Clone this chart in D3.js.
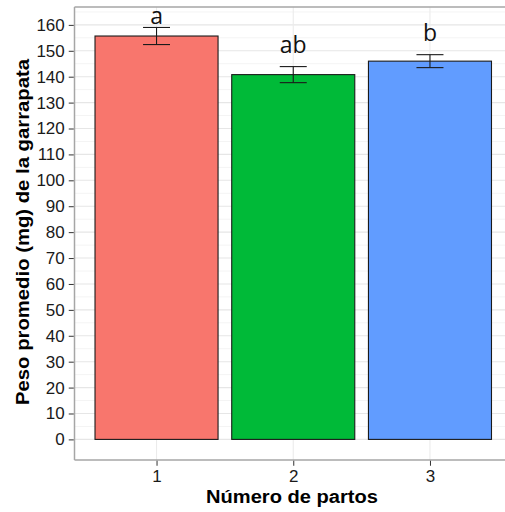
<!DOCTYPE html>
<html>
<head>
<meta charset="utf-8">
<script src="https://cdn.jsdelivr.net/npm/d3@7"></script>
<style>
  html, body { margin: 0; padding: 0; background: #fff; }
  svg { display: block; }
</style>
</head>
<body>
<div id="chart"></div>
<script>
// Mean tick weight by number of calvings
const categories = ["1", "2", "3"];
const means = [155.7, 140.8, 146.0];
const errors = [3.3, 3.1, 2.5];
const groupLetters = ["a", "ab", "b"];
const letterPositions = [160.4, 149.2, 153.9];
const barColors = ["#F8766D", "#00BA38", "#619CFF"];
const yTicks = d3.range(0, 161, 10);
const yMinorTicks = d3.range(5, 166, 10);

const W = 505, H = 512;
const panel = { left: 74.5, right: 512, top: 7, bottom: 460 };

const svg = d3.select("#chart").append("svg")
  .attr("width", W).attr("height", H);

const y = d3.scaleLinear().domain([-7.95, 166.9]).range([panel.bottom, panel.top]);
// discrete positions: categories at 1..3 with 0.6 expansion on each side
const xPos = d3.scaleLinear().domain([0.4, 3.6]).range([panel.left, panel.right]);
const step = xPos(2) - xPos(1);
const barW = step * 0.9;
const capW = 27;

const g = svg.append("g");

// minor grid
g.selectAll("line.minor").data(yMinorTicks).join("line")
  .attr("x1", panel.left).attr("x2", panel.right)
  .attr("y1", d => y(d)).attr("y2", d => y(d))
  .attr("stroke", "#f4f4f4").attr("stroke-width", 1);

// major grid
g.selectAll("line.major").data(yTicks).join("line")
  .attr("x1", panel.left).attr("x2", panel.right)
  .attr("y1", d => y(d)).attr("y2", d => y(d))
  .attr("stroke", "#e6e6e6").attr("stroke-width", 1.1);

g.selectAll("line.vgrid").data(categories).join("line")
  .attr("x1", (d, i) => xPos(i + 1)).attr("x2", (d, i) => xPos(i + 1))
  .attr("y1", panel.top).attr("y2", panel.bottom)
  .attr("stroke", "#ebebeb").attr("stroke-width", 1.1);

// bars
g.selectAll("rect.bar").data(means).join("rect")
  .attr("x", (d, i) => xPos(i + 1) - barW / 2)
  .attr("width", barW)
  .attr("y", d => y(d))
  .attr("height", d => y(0) - y(d))
  .attr("fill", (d, i) => barColors[i])
  .attr("stroke", "#1a1a1a").attr("stroke-width", 1.1);

// error bars
const eb = g.selectAll("g.err").data(means).join("g")
  .attr("stroke", "#1a1a1a").attr("stroke-width", 1.1);
eb.append("line")
  .attr("x1", (d, i) => xPos(i + 1)).attr("x2", (d, i) => xPos(i + 1))
  .attr("y1", (d, i) => y(d + errors[i])).attr("y2", (d, i) => y(d - errors[i]));
eb.append("line")
  .attr("x1", (d, i) => xPos(i + 1) - capW / 2).attr("x2", (d, i) => xPos(i + 1) + capW / 2)
  .attr("y1", (d, i) => y(d + errors[i])).attr("y2", (d, i) => y(d + errors[i]));
eb.append("line")
  .attr("x1", (d, i) => xPos(i + 1) - capW / 2).attr("x2", (d, i) => xPos(i + 1) + capW / 2)
  .attr("y1", (d, i) => y(d - errors[i])).attr("y2", (d, i) => y(d - errors[i]));

// significance letters
g.selectAll("text.letter").data(groupLetters).join("text")
  .attr("x", (d, i) => xPos(i + 1))
  .attr("y", (d, i) => y(letterPositions[i]))
  .attr("text-anchor", "middle")
  .attr("font-family", "'Open Sans', sans-serif")
  .attr("font-size", 23)
  .attr("fill", "#111")
  .text(d => d);

// panel border (top/left/bottom visible)
svg.append("line").attr("x1", panel.left).attr("x2", panel.right)
  .attr("y1", panel.top).attr("y2", panel.top)
  .attr("stroke", "#a6a6a6").attr("stroke-width", 1.5);
svg.append("line").attr("x1", panel.left).attr("x2", panel.right)
  .attr("y1", panel.bottom).attr("y2", panel.bottom)
  .attr("stroke", "#a6a6a6").attr("stroke-width", 1.5);
svg.append("line").attr("x1", panel.left).attr("x2", panel.left)
  .attr("y1", panel.top).attr("y2", panel.bottom)
  .attr("stroke", "#a6a6a6").attr("stroke-width", 1.5);

// y axis
const yAxis = svg.append("g")
  .attr("transform", `translate(${panel.left - 0.75},0)`)
  .call(d3.axisLeft(y).tickValues(yTicks).tickSize(5).tickPadding(4));
yAxis.select(".domain").remove();
yAxis.selectAll(".tick line").attr("stroke", "#333");
yAxis.selectAll(".tick text")
  .attr("font-family", "'Liberation Sans', Arial, sans-serif")
  .attr("font-size", 17).attr("fill", "#1a1a1a");

// x axis
const xAxis = svg.append("g")
  .attr("transform", `translate(0,${panel.bottom + 0.75})`)
  .call(d3.axisBottom(xPos).tickValues([1, 2, 3]).tickFormat((d, i) => categories[i])
    .tickSize(5).tickPadding(4));
xAxis.select(".domain").remove();
xAxis.selectAll(".tick line").attr("stroke", "#333");
xAxis.selectAll(".tick text")
  .attr("font-family", "'Liberation Sans', Arial, sans-serif")
  .attr("font-size", 17).attr("fill", "#1a1a1a");

// axis titles
svg.append("text")
  .attr("x", 292).attr("y", 503)
  .attr("text-anchor", "middle")
  .attr("font-family", "'Liberation Sans', Arial, sans-serif")
  .attr("font-weight", "bold").attr("font-size", 18).attr("fill", "#000")
  .attr("textLength", 172).attr("lengthAdjust", "spacingAndGlyphs")
  .text("Número de partos");

svg.append("text")
  .attr("transform", `translate(29,${232}) rotate(-90)`)
  .attr("text-anchor", "middle")
  .attr("font-family", "'Liberation Sans', Arial, sans-serif")
  .attr("font-weight", "bold").attr("font-size", 18).attr("fill", "#000")
  .attr("textLength", 346).attr("lengthAdjust", "spacingAndGlyphs")
  .text("Peso promedio (mg) de la garrapata");
</script>
</body>
</html>
